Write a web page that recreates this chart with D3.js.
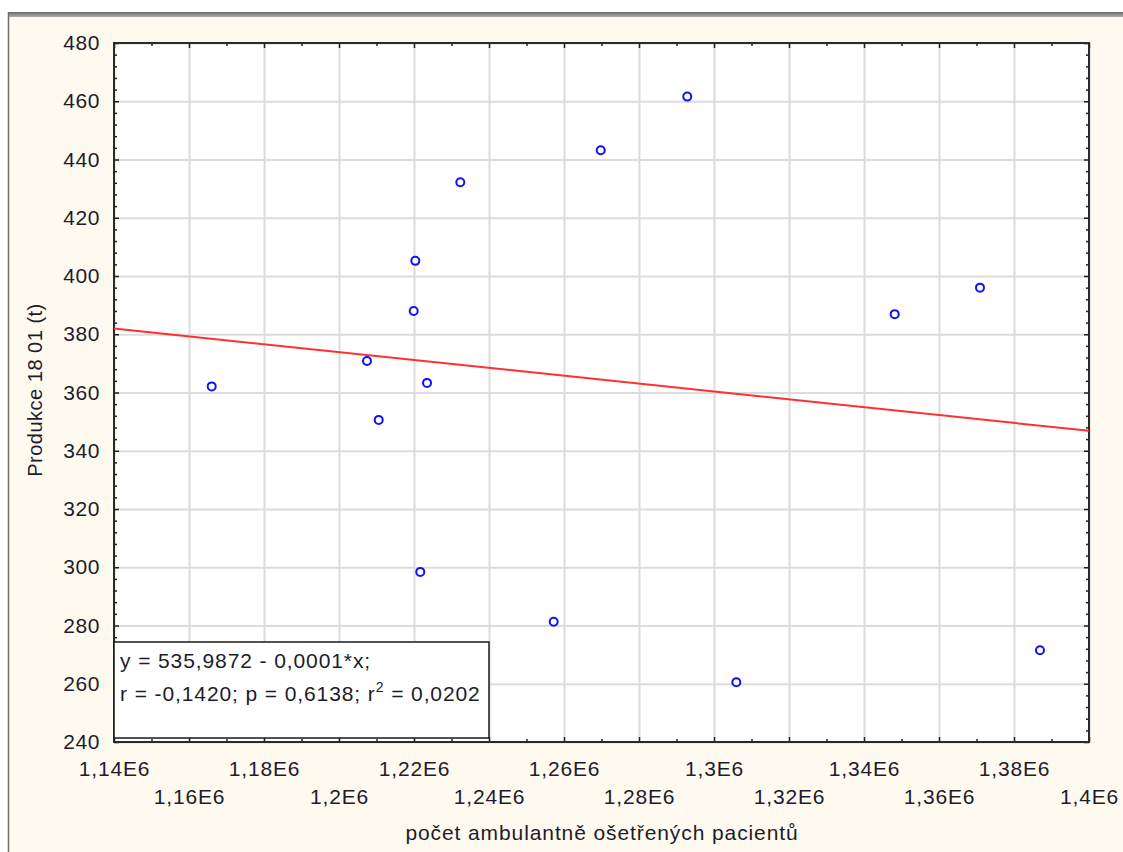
<!DOCTYPE html>
<html>
<head>
<meta charset="utf-8">
<script src="https://cdn.jsdelivr.net/npm/d3@7"></script>
<style>
  body { margin: 0; background: #fff; }
  svg { display: block; }
  text { font-family: Arial, "Liberation Sans", sans-serif; fill: #1c1c2c; }
</style>
</head>
<body>
<div class="chart"></div>
<script>
// data
var pacienti = [1166050, 1207470, 1210590, 1220350, 1219920, 1221680, 1223470, 1232350,
                1257250, 1269790, 1292880, 1305950, 1348190, 1370930, 1386930];
var produkce = [362.1, 370.8, 350.6, 405.2, 388.0, 298.4, 363.3, 432.2,
                281.3, 443.2, 461.6, 260.5, 386.9, 396.0, 271.5];

var xTicks = [1140000, 1160000, 1180000, 1200000, 1220000, 1240000, 1260000,
              1280000, 1300000, 1320000, 1340000, 1360000, 1380000, 1400000];
var xTickLabels = ["1,14E6", "1,16E6", "1,18E6", "1,2E6", "1,22E6", "1,24E6", "1,26E6",
                   "1,28E6", "1,3E6", "1,32E6", "1,34E6", "1,36E6", "1,38E6", "1,4E6"];
var yTicks = [240, 260, 280, 300, 320, 340, 360, 380, 400, 420, 440, 460, 480];

// regression line as printed in the box (slope not rounded)
var intercept = 535.9872, slope = -0.0001351;
var rovnice = ["y = 535,9872 - 0,0001*x;", "r = -0,1420; p = 0,6138; r", "2", " = 0,0202"];

var svgWidth = 1123, svgHeight = 852;
var margin = {top: 43, left: 114, right: 34, bottom: 110};
var chart_width = svgWidth - margin.left - margin.right,
    chart_height = svgHeight - margin.top - margin.bottom;

var svg = d3.select(".chart").append("svg")
  .attr("width", svgWidth)
  .attr("height", svgHeight);

// window frame
var grad = svg.append("defs").append("linearGradient")
  .attr("id", "band").attr("x1", 0).attr("x2", 0).attr("y1", 0).attr("y2", 1);
grad.append("stop").attr("offset", 0).attr("stop-color", "#6a6a6a");
grad.append("stop").attr("offset", 1).attr("stop-color", "#b0b0b0");

svg.append("rect").attr("x", 8).attr("y", 17).attr("width", svgWidth).attr("height", svgHeight)
  .attr("fill", "#fffaf0");
svg.append("rect").attr("x", 8).attr("y", 12).attr("width", svgWidth).attr("height", 5)
  .attr("fill", "url(#band)");
svg.append("line").attr("x1", 8.5).attr("x2", 8.5).attr("y1", 12).attr("y2", svgHeight)
  .attr("stroke", "#707070").attr("stroke-width", 1.5);

var x = d3.scaleLinear().domain([1140000, 1400000]).range([0, chart_width]);
var y = d3.scaleLinear().domain([240, 480]).range([chart_height, 0]);

var g = svg.append("g").attr("transform", "translate(" + margin.left + "," + margin.top + ")");

g.append("rect").attr("width", chart_width).attr("height", chart_height).attr("fill", "#fff");

// grid
g.append("g")
  .call(d3.axisBottom(x).tickValues(xTicks).tickSize(chart_height).tickFormat(""))
  .call(function(a) { a.select(".domain").remove(); })
  .selectAll("line").attr("stroke", "#dcdcdc").attr("stroke-width", 2);
g.append("g")
  .call(d3.axisLeft(y).tickValues(yTicks).tickSize(-chart_width).tickFormat(""))
  .call(function(a) { a.select(".domain").remove(); })
  .selectAll("line").attr("stroke", "#dcdcdc").attr("stroke-width", 2);

// minor ticks, pointing inwards on all four sides
var xMinor = d3.range(1150000, 1400000, 20000);
var yMinor = d3.range(240, 480, 4).filter(function(v) { return v % 20 != 0; });

function ticks(axis, transform) {
  var a = g.append("g").attr("transform", transform || null).call(axis);
  a.select(".domain").remove();
  a.selectAll("line").attr("stroke", "#222").attr("stroke-width", 1.5);
  a.selectAll("text").remove();
}
ticks(d3.axisBottom(x).tickValues(xTicks).tickSize(-5), "translate(0," + chart_height + ")");
ticks(d3.axisBottom(x).tickValues(xMinor).tickSize(-3), "translate(0," + chart_height + ")");
ticks(d3.axisTop(x).tickValues(xTicks).tickSize(-5));
ticks(d3.axisTop(x).tickValues(xMinor).tickSize(-3));
ticks(d3.axisLeft(y).tickValues(yTicks).tickSize(-5));
ticks(d3.axisLeft(y).tickValues(yMinor).tickSize(-3));
ticks(d3.axisRight(y).tickValues(yTicks).tickSize(-5), "translate(" + chart_width + ",0)");
ticks(d3.axisRight(y).tickValues(yMinor).tickSize(-3), "translate(" + chart_width + ",0)");

// frame
g.append("rect").attr("width", chart_width).attr("height", chart_height)
  .attr("fill", "none").attr("stroke", "#2a2a2a").attr("stroke-width", 2);

// tick labels
var yLab = g.append("g")
  .call(d3.axisLeft(y).tickValues(yTicks).tickSize(0).tickPadding(14));
yLab.select(".domain").remove();
yLab.selectAll("text").style("font-size", "21px").attr("fill", "#1c1c2c")
  .style("font-family", "Arial, 'Liberation Sans', sans-serif").style("letter-spacing", "0.6px");

var xLab = g.append("g").attr("transform", "translate(0," + chart_height + ")")
  .call(d3.axisBottom(x).tickValues(xTicks).tickSize(0).tickPadding(0)
    .tickFormat(function(d, i) { return xTickLabels[i]; }));
xLab.select(".domain").remove();
xLab.selectAll("text").style("font-size", "21px").attr("fill", "#1c1c2c")
  .style("font-family", "Arial, 'Liberation Sans', sans-serif").style("letter-spacing", "0.8px")
  .attr("dy", null).attr("y", function(d, i) { return i % 2 == 0 ? 34 : 62; });

// regression line
var line = d3.line().x(function(d) { return x(d); }).y(function(d) { return y(intercept + slope * d); });
g.append("path").datum(x.domain())
  .attr("d", line).attr("fill", "none").attr("stroke", "#ff3030").attr("stroke-width", 2);

// points
g.selectAll(".pt").data(pacienti).enter().append("circle")
  .attr("class", "pt")
  .attr("cx", function(d) { return x(d); })
  .attr("cy", function(d, i) { return y(produkce[i]); })
  .attr("r", 4)
  .attr("fill", "#fff").attr("stroke", "#1010ff").attr("stroke-width", 2);

// box with equation
var box = g.append("g").attr("transform", "translate(0," + (chart_height - 100) + ")");
box.append("rect").attr("x", 0).attr("y", 0).attr("width", 375).attr("height", 96)
  .attr("fill", "#fff").attr("stroke", "#1a1a1a").attr("stroke-width", 1.5);
box.append("text").attr("x", 6).attr("y", 26).style("font-size", "21px").style("letter-spacing", "0.9px")
  .text(rovnice[0]);
var t2 = box.append("text").attr("x", 6).attr("y", 59).style("font-size", "21px").style("letter-spacing", "0.9px");
t2.append("tspan").text(rovnice[1]);
t2.append("tspan").attr("dy", -9).style("font-size", "14px").text(rovnice[2]);
t2.append("tspan").attr("dy", 9).text(rovnice[3]);

// axis titles
svg.append("text")
  .attr("transform", "translate(42,390) rotate(-90)")
  .attr("text-anchor", "middle").style("font-size", "20px").style("letter-spacing", "0.5px")
  .text("Produkce 18 01 (t)");
svg.append("text")
  .attr("x", 602).attr("y", 840)
  .attr("text-anchor", "middle").style("font-size", "21px").style("letter-spacing", "0.9px")
  .text("počet ambulantně ošetřených pacientů");
</script>
</body>
</html>
